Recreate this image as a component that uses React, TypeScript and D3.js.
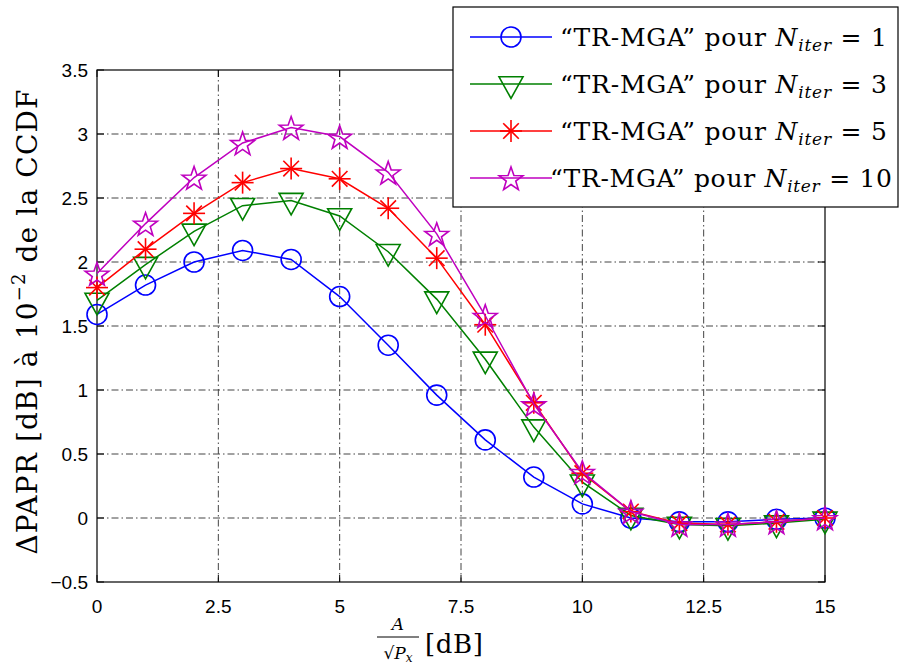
import React from "react";
import * as d3 from "d3";

const xValues = [0, 1, 2, 3, 4, 5, 6, 7, 8, 9, 10, 11, 12, 13, 14, 15];
const iter1 = [1.59, 1.82, 2.0, 2.09, 2.02, 1.73, 1.35, 0.96, 0.61, 0.32, 0.11, 0.0, -0.03, -0.03, -0.01, 0.0];
const iter3 = [1.7, 1.98, 2.24, 2.44, 2.48, 2.36, 2.08, 1.71, 1.24, 0.71, 0.28, 0.02, -0.05, -0.06, -0.04, -0.01];
const iter5 = [1.8, 2.1, 2.38, 2.62, 2.73, 2.65, 2.42, 2.03, 1.51, 0.9, 0.35, 0.05, -0.04, -0.05, -0.03, 0.0];
const iter10 = [1.91, 2.3, 2.66, 2.93, 3.05, 2.98, 2.7, 2.22, 1.58, 0.89, 0.36, 0.05, -0.05, -0.05, -0.03, 0.0];
const xTicks = [0, 2.5, 5, 7.5, 10, 12.5, 15];
const xTickLabels = ["0", "2.5", "5", "7.5", "10", "12.5", "15"];
const yTicks = [-0.5, 0, 0.5, 1, 1.5, 2, 2.5, 3, 3.5];
const yTickLabels = ["\u22120.5", "0", "0.5", "1", "1.5", "2", "2.5", "3", "3.5"];
const seriesNames = ["1", "3", "5", "10"];
const seriesColors = ["#0000ff", "#008000", "#ff0000", "#bf00bf"];
const seriesMarkers = ["circle", "triangle", "asterisk", "star"];

const W = 900, H = 666;
const L = 97, R = 825, T = 70, B = 582;
const SERIF = "DejaVu Serif";
const SANS = "Liberation Sans";

function Marker({ type, cx, cy, color }: { type: string; cx: number; cy: number; color: string }) {
  const sw = 1.6;
  if (type === "circle") return <circle cx={cx} cy={cy} r={10} fill="none" stroke={color} strokeWidth={sw} />;
  if (type === "triangle") {
    const s = 12;
    const pts = [[cx - s, cy - s * 0.6], [cx + s, cy - s * 0.6], [cx, cy + s * 1.2]];
    return <polygon points={pts.map(p => p.join(",")).join(" ")} fill="none" stroke={color} strokeWidth={sw} />;
  }
  if (type === "asterisk") {
    const s = 11, d = 7.8;
    return (
      <g stroke={color} strokeWidth={sw}>
        <line x1={cx} y1={cy - s} x2={cx} y2={cy + s} />
        <line x1={cx - s} y1={cy} x2={cx + s} y2={cy} />
        <line x1={cx - d} y1={cy - d} x2={cx + d} y2={cy + d} />
        <line x1={cx - d} y1={cy + d} x2={cx + d} y2={cy - d} />
      </g>
    );
  }
  const ro = 12.5, ri = 5;
  const pts: string[] = [];
  for (let i = 0; i < 10; i++) {
    const a = -Math.PI / 2 + (i * Math.PI) / 5;
    const r = i % 2 === 0 ? ro : ri;
    pts.push(`${cx + r * Math.cos(a)},${cy + r * Math.sin(a) + 1.5}`);
  }
  return <polygon points={pts.join(" ")} fill="none" stroke={color} strokeWidth={sw} />;
}

export default function App() {
  const x = d3.scaleLinear().domain([0, 15]).range([L, R]);
  const y = d3.scaleLinear().domain([-0.5, 3.5]).range([B, T]);
  const series = [iter1, iter3, iter5, iter10];
  const line = d3.line<number>().x((_, i) => x(xValues[i])).y(d => y(d));
  const gridDash = "7,3,1.5,3";
  const legRows = [37, 84, 131, 178];

  return (
    <svg width={W} height={H} style={{ position: "absolute", left: 0, top: 0, background: "#fff" }}>
      <rect x={0} y={0} width={W} height={H} fill="#fff" />
      {/* grid */}
      {xTicks.slice(1, -1).map(t => (
        <line key={"gx" + t} x1={x(t)} x2={x(t)} y1={T} y2={B} stroke="#444" strokeWidth={1} strokeDasharray={gridDash} />
      ))}
      {yTicks.slice(1, -1).map(t => (
        <line key={"gy" + t} x1={L} x2={R} y1={y(t)} y2={y(t)} stroke="#444" strokeWidth={1} strokeDasharray={gridDash} />
      ))}
      {/* ticks */}
      {xTicks.map(t => (
        <g key={"tx" + t}>
          <line x1={x(t)} x2={x(t)} y1={B} y2={B - 7} stroke="#000" />
          <line x1={x(t)} x2={x(t)} y1={T} y2={T + 7} stroke="#000" />
        </g>
      ))}
      {yTicks.map(t => (
        <g key={"ty" + t}>
          <line x1={L} x2={L + 7} y1={y(t)} y2={y(t)} stroke="#000" />
          <line x1={R} x2={R - 7} y1={y(t)} y2={y(t)} stroke="#000" />
        </g>
      ))}
      <rect x={L} y={T} width={R - L} height={B - T} fill="none" stroke="#000" strokeWidth={1.2} />
      {/* tick labels */}
      {xTicks.map((t, i) => (
        <text key={"lx" + t} x={x(t)} y={B + 31} textAnchor="middle" fontFamily={SANS} fontSize={19}>{xTickLabels[i]}</text>
      ))}
      {yTicks.map((t, i) => (
        <text key={"ly" + t} x={L - 9} y={y(t) + 7} textAnchor="end" fontFamily={SANS} fontSize={19}>{yTickLabels[i]}</text>
      ))}
      {/* series */}
      {series.map((s, si) => (
        <g key={"s" + si}>
          <path d={line(s) || ""} fill="none" stroke={seriesColors[si]} strokeWidth={1.5} />
          {s.map((v, i) => (
            <Marker key={i} type={seriesMarkers[si]} cx={x(xValues[i])} cy={y(v)} color={seriesColors[si]} />
          ))}
        </g>
      ))}
      {/* legend */}
      <rect x={453} y={7} width={445} height={200} fill="#fff" stroke="#000" strokeWidth={1.2} />
      {seriesNames.map((n, i) => (
        <g key={"leg" + i}>
          <line x1={470} x2={552} y1={legRows[i]} y2={legRows[i]} stroke={seriesColors[i]} strokeWidth={1.5} />
          <Marker type={seriesMarkers[i]} cx={511} cy={legRows[i]} color={seriesColors[i]} />
          <text x={i === 3 ? 550 : 560} y={legRows[i] + 9} fontFamily={SERIF} fontSize={25}
            textLength={i === 3 ? 342 : 327} lengthAdjust="spacing">
            {"\u201CTR-MGA\u201D pour "}
            <tspan fontStyle="italic">N</tspan>
            <tspan fontStyle="italic" fontSize={17} dy={5}>iter</tspan>
            <tspan dy={-5}>{" = " + n}</tspan>
          </text>
        </g>
      ))}
      {/* y label */}
      <text transform="translate(37,322) rotate(-90)" textAnchor="middle" fontFamily={SERIF} fontSize={28}
        textLength={465} lengthAdjust="spacing">
        {"\u0394PAPR [dB] \u00E0 10"}
        <tspan fontSize={18} dy={-12}>{"\u22122"}</tspan>
        <tspan dy={12}>{" de la CCDF"}</tspan>
      </text>
      {/* x label */}
      <g fontFamily={SERIF}>
        <text x={398} y={630} textAnchor="middle" fontSize={17} fontStyle="italic">A</text>
        <line x1={377} x2={419} y1={637} y2={637} stroke="#000" strokeWidth={1} />
        <text x={398} y={659} textAnchor="middle" fontSize={17}>
          {"\u221A"}
          <tspan fontStyle="italic">P</tspan>
          <tspan fontStyle="italic" fontSize={12} dy={3}>x</tspan>
        </text>
        <text x={425} y={653} fontSize={26} textLength={58} lengthAdjust="spacing">[dB]</text>
      </g>
    </svg>
  );
}
